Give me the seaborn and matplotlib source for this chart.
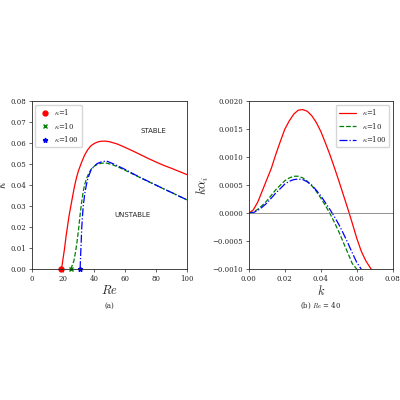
import matplotlib
matplotlib.use("Agg")
import matplotlib.pyplot as plt
import seaborn as sns
import pandas as pd

sns.set_style("ticks")
plt.rcParams['font.family'] = ['DejaVu Serif']
plt.rcParams['mathtext.fontset'] = 'cm'

labels = [r'$\kappa$=1', r'$\kappa$=10', r'$\kappa$=100']
colors = ['red', 'green', 'blue']
styles = ['-', '--', '-.']
markers = ['o', 'x', '*']

re1 = [19, 20, 21, 22, 23, 24, 25, 26, 27, 28, 29, 30, 32, 34, 36, 38, 40, 42, 44, 47, 50, 55, 60, 65, 70, 75, 80, 85, 90, 95, 100]
k1 = [0, 0.005, 0.010, 0.016, 0.021, 0.026, 0.030, 0.034, 0.038, 0.0415, 0.0445, 0.047, 0.051, 0.0545, 0.057, 0.0588, 0.0598, 0.0605, 0.0609, 0.061, 0.0607, 0.0596, 0.058, 0.0563, 0.0545, 0.0527, 0.051, 0.0494, 0.048, 0.0465, 0.045]
re2 = [25, 26, 27, 28, 29, 30, 31, 32, 33, 34, 35, 36, 38, 40, 42, 45, 48, 52, 56, 60, 65, 70, 75, 80, 85, 90, 95, 100]
k2 = [0, 0.002, 0.004, 0.008, 0.013, 0.019, 0.026, 0.032, 0.037, 0.0405, 0.0428, 0.0447, 0.0475, 0.049, 0.0499, 0.0505, 0.0505, 0.0497, 0.0485, 0.0471, 0.0453, 0.0435, 0.0417, 0.040, 0.0382, 0.0365, 0.0347, 0.033]
re3 = [31, 31.3, 31.7, 32, 32.5, 33, 34, 35, 36, 38, 40, 42, 45, 48, 52, 56, 60, 65, 70, 75, 80, 85, 90, 95, 100]
k3 = [0, 0.006, 0.013, 0.019, 0.025, 0.03, 0.036, 0.040, 0.0433, 0.0472, 0.049, 0.0503, 0.0512, 0.0515, 0.0503, 0.0489, 0.0475, 0.0455, 0.0436, 0.0418, 0.040, 0.0382, 0.0365, 0.0347, 0.033]

kk1 = [0, 0.0025, 0.005, 0.0075, 0.01, 0.0125, 0.015, 0.0175, 0.02, 0.0225, 0.025, 0.0275, 0.03, 0.0325, 0.035, 0.0375, 0.04, 0.0425, 0.045, 0.0475, 0.05, 0.0525, 0.055, 0.0575, 0.06, 0.0625, 0.065, 0.068]
g1 = [0, 0.00006, 0.0002, 0.0004, 0.0006, 0.0008, 0.00105, 0.00128, 0.0015, 0.00165, 0.00177, 0.00184, 0.00185, 0.00182, 0.00174, 0.00162, 0.00146, 0.00126, 0.00105, 0.00082, 0.00058, 0.00033, 0.00008, -0.00018, -0.00045, -0.00068, -0.00085, -0.001]
kk2 = [0, 0.0025, 0.005, 0.0075, 0.01, 0.0125, 0.015, 0.0175, 0.02, 0.0225, 0.025, 0.0275, 0.03, 0.0325, 0.035, 0.0375, 0.04, 0.0425, 0.045, 0.0475, 0.05, 0.0525, 0.055, 0.0575, 0.06]
g2 = [0, 0.00002, 0.00007, 0.00014, 0.00022, 0.00032, 0.00042, 0.0005, 0.00058, 0.00063, 0.00066, 0.00066, 0.00063, 0.00057, 0.00049, 0.00039, 0.00027, 0.00014, 0.0, -0.00016, -0.00033, -0.00052, -0.00071, -0.0009, -0.001]
kk3 = [0, 0.0025, 0.005, 0.0075, 0.01, 0.0125, 0.015, 0.0175, 0.02, 0.0225, 0.025, 0.0275, 0.03, 0.0325, 0.035, 0.0375, 0.04, 0.0425, 0.045, 0.0475, 0.05, 0.0525, 0.055, 0.0575, 0.06, 0.0625]
g3 = [0, 0.00001, 0.00005, 0.00011, 0.00018, 0.00027, 0.00036, 0.00044, 0.00052, 0.00057, 0.0006, 0.00061, 0.0006, 0.00056, 0.0005, 0.00041, 0.00031, 0.00019, 0.00007, -0.00006, -0.0002, -0.00036, -0.00053, -0.00071, -0.00088, -0.001]

fig = plt.figure(figsize=(4, 4), dpi=100)
ax1 = fig.add_axes([0.08, 0.327, 0.388, 0.42])
ax2 = fig.add_axes([0.622, 0.327, 0.36, 0.42])

for re, k, c, ls, m, lab in zip([re1, re2, re3], [k1, k2, k3], colors, styles, markers, labels):
    df = pd.DataFrame({'Re': re, 'k': k})
    sns.lineplot(data=df, x='Re', y='k', ax=ax1, color=c, linestyle=ls, lw=0.9, sort=False)
    ax1.plot(re[0], k[0], marker=m, color=c, ls='none', ms=3.5, label=lab, clip_on=False)

for kk, g, c, ls, lab in zip([kk1, kk2, kk3], [g1, g2, g3], colors, styles, labels):
    df = pd.DataFrame({'k': kk, 'g': g})
    sns.lineplot(data=df, x='k', y='g', ax=ax2, color=c, linestyle=ls, lw=0.9, label=lab)
ax2.axhline(0, color='grey', lw=0.6)

ax1.set_xlim(0, 100); ax1.set_ylim(0, 0.08)
ax1.set_xticks([0, 20, 40, 60, 80, 100])
ax1.set_xlabel(r'$Re$', fontsize=9, labelpad=1)
ax1.set_ylabel(r'$k$', fontsize=9, labelpad=1)
ax1.text(78, 0.065, 'STABLE', fontsize=5, ha='center', family='DejaVu Sans')
ax1.text(65, 0.025, 'UNSTABLE', fontsize=5, ha='center', family='DejaVu Sans')
ax1.legend(fontsize=5, loc='upper left', handletextpad=0.3)
ax1.text(0.5, -0.23, '(a)', transform=ax1.transAxes, ha='center', fontsize=5)

ax2.set_xlim(0, 0.08); ax2.set_ylim(-0.001, 0.002)
ax2.set_xticks([0, 0.02, 0.04, 0.06, 0.08])
ax2.set_yticks([-0.001, -0.0005, 0, 0.0005, 0.001, 0.0015, 0.002])
ax2.set_yticklabels(['−0.0010', '−0.0005', '0.0000', '0.0005', '0.0010', '0.0015', '0.0020'])
ax2.set_xlabel(r'$k$', fontsize=9, labelpad=1)
ax2.set_ylabel(r'$k\alpha_i$', fontsize=9, labelpad=1)
ax2.legend(fontsize=5, loc='upper right', handlelength=2.5)
ax2.text(0.5, -0.23, r'(b) $Re$ = 40', transform=ax2.transAxes, ha='center', fontsize=5)

for ax in (ax1, ax2):
    ax.tick_params(labelsize=5, length=2, width=0.5, pad=2)
    for s in ax.spines.values():
        s.set_linewidth(0.6)

fig.savefig('out.png', dpi=100)
